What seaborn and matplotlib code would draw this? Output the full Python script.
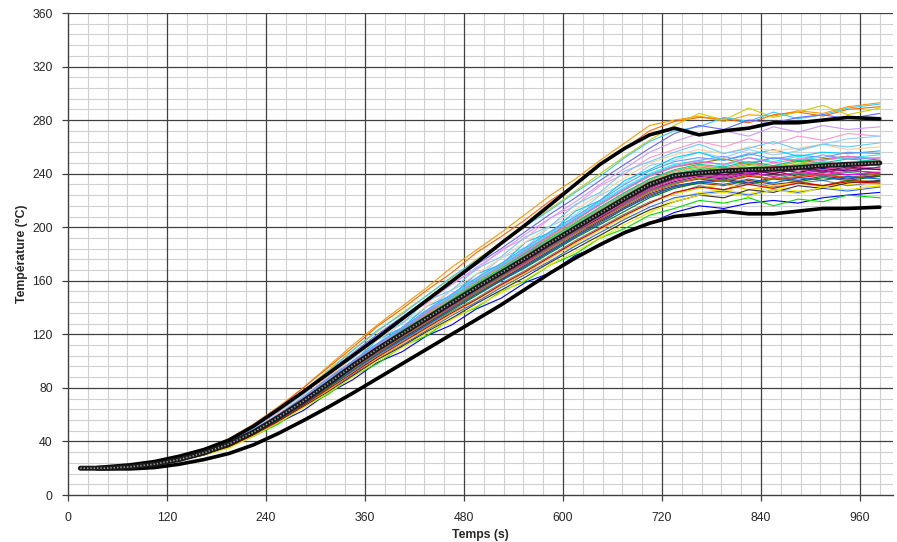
import numpy as np
import pandas as pd
import matplotlib
matplotlib.use("Agg")
import matplotlib.pyplot as plt
from matplotlib.ticker import MultipleLocator
import seaborn as sns

# ---------------- data ----------------
time = [15, 45, 75, 105, 135, 165, 195, 225, 255, 285, 315, 345, 375, 405, 435, 465,
        495, 525, 555, 585, 615, 645, 675, 705, 735, 765, 795, 825, 855, 885, 915, 945, 984]
env_time = [35] + time[1:]

mean_curve = [20, 20, 21, 23, 26.5, 31.5, 38, 47, 58, 70, 83, 96.5, 109, 120.5, 132, 143.5,
              155, 166, 177, 188.5, 199.5, 210.5, 221.5, 232, 238.5, 240.5, 242, 243, 243.5,
              244.5, 246, 247, 248]
upper_curve = [20.5, 21, 22.5, 25, 29, 34, 41, 51.5, 64, 77, 90.5, 104, 117.5, 131.5, 145.5,
               159.5, 173.5, 188, 202, 217, 232, 247, 259, 269, 274, 269, 272, 274, 278, 278,
               280, 282, 281]
lower_curve = [19.5, 19.5, 19.5, 20.5, 23, 26.5, 31, 37.5, 46, 55.5, 65.5, 76, 87, 98, 109,
               120, 131, 142, 154, 166, 177, 187, 196, 203, 208, 210, 212, 210, 210, 212, 214,
               214, 215]

c01 = [20,20,21,24,28,34,42,53,66,80,96,112,127,141,155,170,183,196,210,224,236,250,263,276,280,283,279,284,283,287,285,290,293]
c02 = [20,20,21,24,28,34,41,52,65,80,95,110,126,139,153,166,181,193,206,220,232,246,259,272,279,282,281,278,284,286,283,288,290]
c03 = [20,20,21,23,27,33,40,51,63,77,93,108,122,136,149,162,176,188,201,214,227,240,253,265,276,285,280,289,282,286,291,284,289]
c04 = [20,20,21,23,27,33,41,51,64,78,92,108,123,135,149,163,175,188,201,213,226,238,252,264,272,275,282,279,286,281,284,289,292]
c05 = [20,20,21,23,27,33,40,50,62,76,91,106,120,133,146,159,172,184,197,210,222,235,247,259,270,276,273,280,278,282,284,281,285]
c06 = [20,20,21,23,27,33,40,50,62,77,88,106,117,133,143,158,168,183,192,207,216,231,240,252,258,264,260,266,262,268,265,270,268]
c07 = [20,20,21,23,27,33,40,50,62,76,90,105,119,132,145,157,170,182,195,207,219,232,244,256,264,270,272,268,275,271,276,273,275]
c08 = [20,20,21,23,27,32,39,49,61,75,86,103,113,129,138,153,162,177,185,201,209,224,233,246,250,256,252,258,254,257,262,266,268]
c09 = [20,20,21,23,27,32,39,49,60,72,88,99,116,125,141,149,165,172,189,196,212,220,235,243,252,256,250,254,258,253,256,255,257]
c10 = [20,20,21,23,26,31,38,47,58,70,83,96,109,120,132,143,155,166,177,188,199,210,221,231,236,239,237,241,238,240,242,239,241]
c11 = [20,20,21,23,26,30,36,44,54,63,76,86,99,107,119,127,139,147,159,166,179,186,197,203,211,216,214,218,220,218,222,224,226]
c12 = [20,20,21,23,26,30,36,44,53,66,75,89,98,111,119,132,140,152,160,172,180,192,199,209,214,220,218,222,216,221,219,224,222]
c13 = [20,20,21,23,26,30,36,45,56,65,79,89,103,110,124,131,146,152,166,173,187,193,207,212,221,226,228,225,230,227,229,232,230]
c14 = [20,20,21,23,26,31,37,46,56,67,80,92,104,115,126,137,147,158,168,179,190,200,210,219,225,231,228,234,230,233,235,231,234]
c15 = [20,20,21,23,26,31,37,46,57,69,81,95,107,118,129,140,152,163,174,185,196,207,217,227,233,236,234,238,236,237,239,237,238]
c16 = [20,20,21,23,26,31,37,46,56,68,81,93,106,117,128,139,150,161,171,182,193,204,214,224,230,233,231,235,232,234,231,235,234]
c17 = [20,20,21,23,26,31,38,47,58,70,83,96,109,120,132,143,155,165,176,188,199,210,220,230,237,240,242,239,243,241,244,242,245]
c18 = [20,20,21,23,26,31,37,46,57,69,82,95,107,118,130,141,152,163,174,186,197,207,218,228,234,238,236,240,242,238,241,243,240]
c19 = [20,20,21,23,27,31,38,47,59,71,84,98,110,122,134,145,157,168,180,191,202,213,224,234,240,243,245,242,246,244,247,245,248]
c20 = [20,20,21,23,26,31,37,46,56,68,80,93,105,116,127,138,149,160,170,181,192,202,212,222,229,233,235,232,236,234,237,235,238]
c21 = [20,20,21,23,27,32,38,48,59,71,85,98,111,123,135,147,159,170,181,193,204,215,226,236,242,245,243,247,245,249,246,248,247]
c22 = [20,20,21,23,27,32,38,48,60,72,86,99,112,124,136,148,160,171,183,194,206,217,228,239,245,248,251,247,252,249,251,253,250]
c23 = [20,20,21,23,27,32,39,48,60,73,86,100,113,125,137,149,161,172,184,196,207,219,230,240,247,250,246,252,249,253,250,252,254]
c24 = [20,20,21,23,26,31,37,46,56,68,81,94,106,117,128,140,151,161,172,183,194,205,215,225,231,234,236,233,237,235,238,236,239]
c25 = [20,20,21,23,27,32,38,48,59,72,85,98,111,123,134,146,158,169,180,192,203,214,225,235,242,246,244,248,245,247,249,246,248]
c26 = [20,20,21,23,26,31,38,47,58,70,83,96,108,120,131,142,154,164,175,187,198,209,219,229,236,240,238,242,240,243,241,244,243]
c27 = [20,20,21,23,26,30,36,45,55,66,78,90,102,112,123,134,144,155,165,175,186,196,206,215,222,225,227,224,228,226,229,227,230]
c28 = [20,20,21,23,27,32,39,49,61,74,88,102,116,128,141,153,165,177,189,201,213,225,237,248,254,258,255,260,257,259,262,258,260]
c29 = [20,20,21,23,26,30,36,45,55,66,78,91,102,113,124,135,146,156,166,177,188,198,208,218,225,229,232,228,231,233,230,234,232]
c30 = [20,20,21,23,26,31,37,46,57,69,82,94,107,118,129,141,152,163,173,185,196,206,217,227,233,237,235,239,236,240,238,241,239]
c31 = [20,20,21,23,26,30,36,45,55,66,77,89,101,111,122,132,143,153,163,174,184,194,204,213,219,224,222,228,226,231,229,233,235]
c32 = [20,20,21,23,27,32,38,48,59,72,86,99,112,124,136,148,160,171,182,194,205,217,228,238,245,249,247,252,248,251,250,253,251]
c33 = [20,20,21,23,26,31,38,47,59,70,84,96,110,121,133,143,156,166,178,188,200,210,222,231,238,242,239,244,241,245,243,246,244]
c34 = [20,20,21,23,27,33,40,50,63,75,92,102,119,128,145,153,169,178,193,201,217,226,242,249,256,262,255,259,264,258,262,260,263]
c35 = [20,20,21,23,27,32,39,48,60,72,86,100,112,124,137,148,160,171,183,195,206,218,229,239,246,250,253,248,252,250,254,251,252]
c36 = [20,20,21,23,26,31,37,46,56,69,81,94,106,118,129,140,151,162,173,184,195,206,216,226,232,237,234,239,236,238,240,237,240]
c37 = [20,20,21,23,26,31,38,47,58,70,82,96,108,119,131,142,154,165,176,187,198,209,220,230,237,241,239,243,240,244,242,245,243]
c38 = [20,20,21,23,27,32,38,48,59,71,85,98,110,123,134,146,158,169,181,192,203,215,226,236,243,247,245,249,246,250,248,251,249]
c39 = [20,20,21,23,26,30,36,45,55,67,79,91,103,114,125,136,146,157,167,178,189,199,209,218,226,230,228,232,229,233,231,234,233]
c40 = [20,20,21,23,27,32,39,49,60,73,87,100,113,125,138,150,162,173,185,197,208,220,232,242,249,252,250,255,251,254,252,256,255]
c41 = [20,20,21,23,26,30,35,44,54,65,76,88,100,110,121,131,141,151,161,172,182,192,202,211,219,224,226,223,228,225,230,228,231]
c42 = [20,20,21,23,27,32,38,47,59,71,84,97,110,122,133,145,157,168,179,191,202,213,224,234,241,244,242,246,244,247,245,248,246]
c43 = [20,20,21,23,26,31,37,46,57,69,82,95,107,119,130,141,153,164,174,186,197,208,218,228,235,239,237,240,238,241,239,242,241]
c44 = [20,20,21,23,26,31,37,46,56,68,81,93,105,116,127,139,150,160,171,182,193,203,214,223,230,234,232,236,233,237,235,238,236]

curves = [c01, c02, c03, c04, c05, c06, c07, c08, c09, c10, c11, c12, c13, c14, c15, c16,
          c17, c18, c19, c20, c21, c22, c23, c24, c25, c26, c27, c28, c29, c30, c31, c32,
          c33, c34, c35, c36, c37, c38, c39, c40, c41, c42, c43, c44]
curve_colors = ["#FF9900", "#FF6600", "#CCCC00", "#33CCFF", "#6666FF", "#FF99CC", "#CC99FF",
                "#99CCFF", "#00CCFF", "#FF00FF", "#0000FF", "#00DD00", "#FFEE00", "#808080",
                "#FF0000", "#993300", "#000080", "#800080", "#008080", "#008000", "#99CC00",
                "#808000", "#00FFFF", "#333399", "#FF8080", "#993366", "#3366FF", "#FFCC99",
                "#FFCC00", "#339966", "#333333", "#FF66CC", "#FF3399", "#66CCFF", "#9999FF",
                "#CC6600", "#660066", "#00CC99", "#CC0000", "#6699FF", "#E6E600", "#66DD66",
                "#CC3399", "#0066CC"]

# ---------------- figure ----------------
sns.set_style("white")
plt.rcParams["font.family"] = ["Liberation Sans", "DejaVu Sans"]

fig = plt.figure(figsize=(8.97, 5.42), dpi=100)
ax = fig.add_axes([68 / 897, 47 / 542, (893 - 68) / 897, (495 - 13) / 542])

rows = []
for i, vals in enumerate(curves):
    for t, v in zip(time, vals):
        rows.append({"t": t, "T": v, "curve": f"c{i+1:02d}"})
df = pd.DataFrame(rows)
palette = {f"c{i+1:02d}": col for i, col in enumerate(curve_colors)}

sns.lineplot(data=df, x="t", y="T", hue="curve", palette=palette, legend=False,
             linewidth=0.8, ax=ax, estimator=None, sort=False)

sns.lineplot(x=env_time, y=upper_curve, color="black", linewidth=2.6, ax=ax,
             estimator=None, sort=False)
sns.lineplot(x=env_time, y=lower_curve, color="black", linewidth=2.6, ax=ax,
             estimator=None, sort=False)
sns.lineplot(x=time, y=mean_curve, color="#1a1a1a", linewidth=3.6, ax=ax,
             estimator=None, sort=False)
sns.lineplot(x=time, y=mean_curve, color="#9a9a9a", linewidth=1.2, ax=ax,
             estimator=None, sort=False)
ax.lines[-1].set_dashes((0.8, 1.2))

ax.set_xlim(0, 1000)
ax.set_ylim(0, 360)
ax.xaxis.set_major_locator(MultipleLocator(120))
ax.xaxis.set_minor_locator(MultipleLocator(24))
ax.yaxis.set_major_locator(MultipleLocator(40))
ax.yaxis.set_minor_locator(MultipleLocator(8))

# light minor grid from the axis, dark major grid drawn above it
ax.grid(which="minor", color="#d0d0d0", linewidth=0.8)
ax.grid(which="major", visible=False)
ax.set_axisbelow(True)
for xv in ax.get_xticks():
    if 0 < xv <= 1000:
        ax.axvline(xv, color="#404040", linewidth=0.9, zorder=0.8)
for yv in ax.get_yticks():
    if 0 < yv <= 360:
        ax.axhline(yv, color="#404040", linewidth=0.9, zorder=0.8)

for s in ["top", "right"]:
    ax.spines[s].set_visible(False)
for s in ["left", "bottom"]:
    ax.spines[s].set_color("#404040")
    ax.spines[s].set_linewidth(1.0)

ax.tick_params(which="major", direction="out", length=4, width=0.9, color="#404040",
               labelsize=8.8, left=True, bottom=True)
ax.tick_params(axis="x", which="major", pad=8)
ax.tick_params(axis="y", which="major", pad=7)
ax.tick_params(which="minor", length=0)

ax.set_xlabel("Temps (s)", fontsize=8.8, fontweight="bold", labelpad=4)
ax.set_ylabel("Température (°C)", fontsize=8.8, fontweight="bold", labelpad=3)

fig.savefig("out.png", dpi=100)
